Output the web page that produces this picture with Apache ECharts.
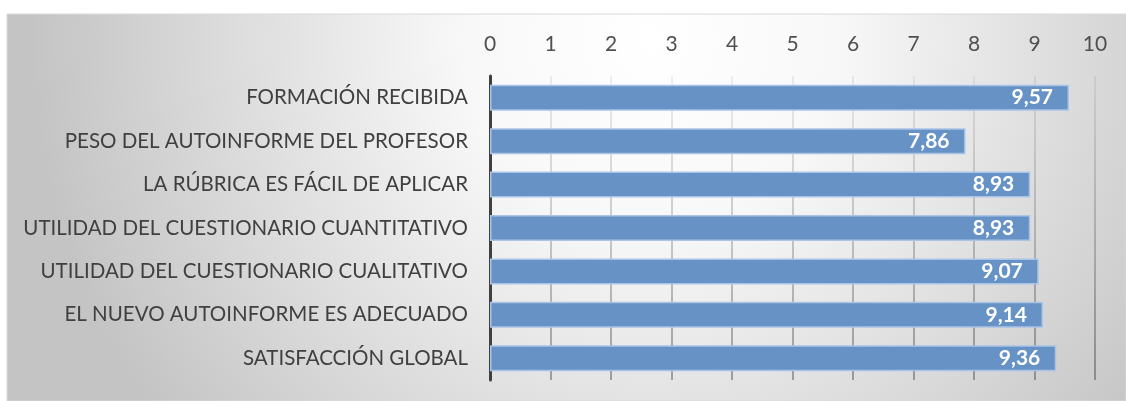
<!DOCTYPE html>
<html>
<head>
    <meta charset="UTF-8">
    <title>Valoración</title>
    <script src="https://cdn.jsdelivr.net/npm/echarts@6/dist/echarts.min.js"></script>
</head>
<body style="margin: 0; background: #fff">
    <div id="container" style="width: 1126px; height: 401px"></div>
    <script type="text/javascript">
        var categories = ['FORMACIÓN RECIBIDA', 'PESO DEL AUTOINFORME DEL PROFESOR', 'LA RÚBRICA ES FÁCIL DE APLICAR',
            'UTILIDAD DEL CUESTIONARIO CUANTITATIVO', 'UTILIDAD DEL CUESTIONARIO CUALITATIVO',
            'EL NUEVO AUTOINFORME ES ADECUADO', 'SATISFACCIÓN GLOBAL'];
        var values = [9.57, 7.86, 8.93, 8.93, 9.07, 9.14, 9.36];

        var myChart = echarts.init(document.getElementById('container'));
        var fontName = 'Lato';

        var option = {
            animation: false,
            graphic: [{
                type: 'rect',
                z: -10,
                silent: true,
                shape: { x: 7, y: 14, width: 1119, height: 387 },
                style: {
                    fill: new echarts.graphic.RadialGradient(650, 40, 620, [
                        { offset: 0, color: '#ffffff' },
                        { offset: 0.3, color: '#f8f8f8' },
                        { offset: 1, color: '#c4c4c4' }
                    ], true),
                    stroke: '#d9d9d9',
                    lineWidth: 1
                }
            }],
            grid: {
                left: 490,
                right: 31,
                top: 76,
                bottom: 21,
                outerBoundsMode: 'none'
            },
            xAxis: {
                type: 'value',
                position: 'top',
                min: 0,
                max: 10,
                interval: 1,
                axisLine: { show: false },
                axisTick: { show: false },
                axisLabel: {
                    color: '#505050',
                    fontFamily: fontName,
                    fontSize: 21,
                    margin: 21
                },
                splitLine: {
                    lineStyle: {
                        width: 1.5,
                        color: new echarts.graphic.LinearGradient(0, 76, 0, 380, [
                            { offset: 0, color: 'rgba(0,0,0,0.08)' },
                            { offset: 1, color: 'rgba(0,0,0,0.42)' }
                        ], true)
                    }
                }
            },
            yAxis: {
                type: 'category',
                inverse: true,
                data: categories,
                axisLine: { lineStyle: { color: '#404040', width: 3 } },
                axisTick: { show: false },
                axisLabel: {
                    color: '#404040',
                    fontFamily: fontName,
                    fontSize: 20.5,
                    margin: 22
                }
            },
            series: [{
                type: 'bar',
                data: values,
                barWidth: 26,
                itemStyle: {
                    color: '#6792c6',
                    borderColor: '#a9c4e6',
                    borderWidth: 1.5
                },
                label: {
                    show: true,
                    position: 'insideRight',
                    distance: 16,
                    color: '#ffffff',
                    fontWeight: 'bold',
                    fontFamily: fontName,
                    fontSize: 21,
                    formatter: function (p) {
                        return p.value.toFixed(2).replace('.', ',');
                    }
                }
            }]
        };

        myChart.setOption(option);
    </script>
</body>
</html>
